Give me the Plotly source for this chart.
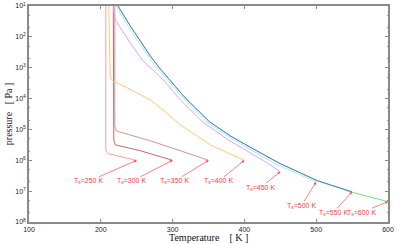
import math
import plotly.graph_objects as go

# Surface temperatures (K)
ts_labels = [250, 300, 350, 400, 450, 500, 550, 600]

# Temperature profiles (K) and pressures (Pa)
T_250 = [207.0, 207.0, 208.4, 211.1, 250.0]
P_250 = [10, 4.57e5, 5.50e5, 6.17e5, 1.0e6]

T_300 = [217.4, 218.1, 220.2, 255.0, 300.0]
P_300 = [10, 2.19e5, 3.16e5, 4.90e5, 1.0e6]

T_350 = [219.5, 219.5, 221.6, 268.9, 310.7, 350.0]
P_350 = [10, 7.59e4, 1.12e5, 2.34e5, 4.90e5, 1.0e6]

T_400 = [211.1, 213.2, 216.0, 234.1, 268.9, 289.8, 310.7, 352.5, 400.0]
P_400 = [10, 2140, 2690, 4170, 1.10e4, 2.69e4, 7.08e4, 3.16e5, 1.0e6]

T_450 = [217.4, 220.2, 241.1, 257.8, 287.0, 310.7, 341.4, 377.6, 408.2, 429.1, 450.0]
P_450 = [10, 28.2, 158, 562, 2450, 1.10e4, 5.62e4, 2.19e5, 5.75e5, 1.12e6, 2.34e6]

T_500 = [221.7, 237.6, 251.5, 265.5, 279.4, 300.3, 314.2, 346.9, 376.2, 404.0, 445.8, 500.0]
P_500 = [10, 44.7, 135, 417, 1100, 4170, 9550, 5.62e4, 1.62e5, 3.98e5, 1.41e6, 5.01e6]

T_550 = [224.0, 241.1, 255.0, 268.9, 282.9, 303.8, 317.7, 351.2, 380.4, 408.2, 450.0, 501.5, 550.0]
P_550 = [10, 44.7, 135, 417, 1100, 4170, 9550, 5.62e4, 1.62e5, 3.80e5, 1.29e6, 4.57e6, 1.05e7]

T_600 = [224.0, 241.1, 255.0, 268.9, 282.9, 303.8, 317.7, 351.2, 380.4, 408.2, 450.0, 501.5, 547.5, 600.0]
P_600 = [10, 44.7, 135, 417, 1100, 4170, 9550, 5.62e4, 1.62e5, 3.80e5, 1.29e6, 4.57e6, 1.05e7, 2.19e7]

profiles_T = [T_250, T_300, T_350, T_400, T_450, T_500, T_550, T_600]
profiles_P = [P_250, P_300, P_350, P_400, P_450, P_500, P_550, P_600]
colors = ["#f6a0a0", "#c46a6a", "#cc9696", "#ffc878", "#d4a6ff", "#b4e6f6", "#4a7fd8", "#78e078"]

# label offsets (pixels, tail relative to arrow tip)
label_ax = [-48, -41, -34, -26, -20, -15, -19, -27]
label_ay = [21, 21, 21, 21, 16, 24, 21, 11]

y_tickvals = [1e1, 1e2, 1e3, 1e4, 1e5, 1e6, 1e7, 1e8]
y_ticktext = ["10<sup>%d</sup>" % n for n in range(1, 9)]
x_tickvals = [100, 200, 300, 400, 500, 600]

fig = go.Figure()
order = [0, 1, 2, 3, 4, 5, 7, 6]
for i in order:
    fig.add_trace(go.Scatter(x=profiles_T[i], y=profiles_P[i], mode="lines",
                             line=dict(color=colors[i], width=1), showlegend=False,
                             hoverinfo="skip"))

for i, ts in enumerate(ts_labels):
    fig.add_annotation(x=profiles_T[i][-1], y=math.log10(profiles_P[i][-1]),
                       xref="x", yref="y",
                       text="T<sub>s</sub>=%d K" % ts, showarrow=True,
                       ax=label_ax[i], ay=label_ay[i],
                       arrowhead=2, arrowsize=0.8, arrowwidth=0.7, arrowcolor="#ff4a4a",
                       font=dict(family="Liberation Sans", size=7, color="#ff3b3b"),
                       borderpad=0, standoff=0)

# axis titles
fig.add_annotation(text="Temperature&nbsp;&nbsp;&nbsp;&nbsp;[ K ]", xref="paper", yref="paper",
                   x=0.5, y=-0.072, xanchor="center", yanchor="middle", showarrow=False,
                   font=dict(family="Liberation Serif", size=10, color="#111"))
fig.add_annotation(text="pressure&nbsp;&nbsp;&nbsp;[ Pa ]", xref="paper", yref="paper",
                   x=-0.058, y=0.5, xanchor="center", yanchor="middle", showarrow=False,
                   textangle=-90,
                   font=dict(family="Liberation Serif", size=10, color="#111"))

axis_common = dict(showline=True, linecolor="#8a8a8a", linewidth=1.5, mirror="ticks",
                   ticks="inside", ticklen=3, tickcolor="#8a8a8a", showgrid=False,
                   zeroline=False, automargin=False,
                   tickfont=dict(family="Liberation Sans", size=7, color="#222"))

fig.update_xaxes(range=[100, 600], tickvals=x_tickvals, **axis_common)
fig.update_yaxes(type="log", range=[8, 1], tickvals=y_tickvals, ticktext=y_ticktext,
                 minor=dict(ticks="inside", ticklen=1.5, tickcolor="#9a9a9a"),
                 **axis_common)

fig.update_layout(width=400, height=244, margin=dict(l=29, r=12, t=6, b=22),
                  paper_bgcolor="white", plot_bgcolor="white")

fig.write_html("out.html", config={"displayModeBar": False},
               post_script="document.body.style.margin='0px';document.body.style.overflow='hidden';")
